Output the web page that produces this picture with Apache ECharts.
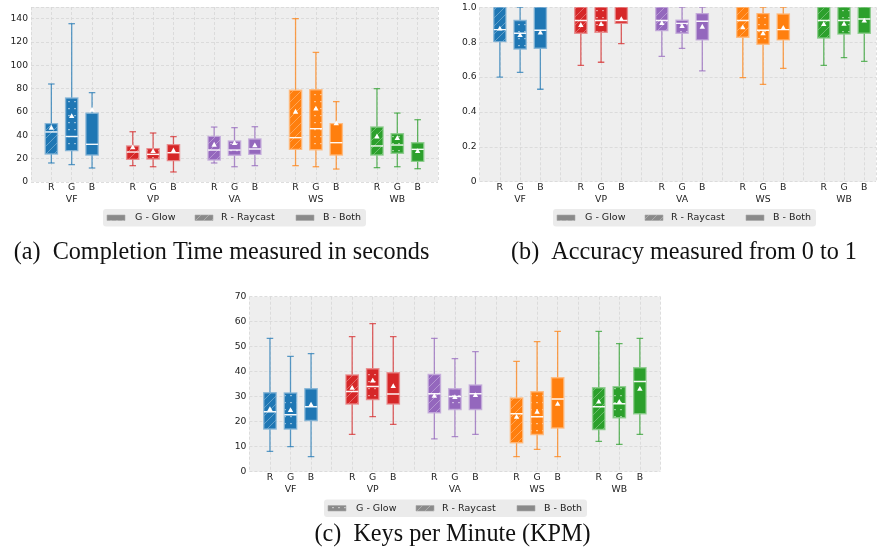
<!DOCTYPE html>
<html>
<head>
<meta charset="utf-8">
<script src="https://cdn.jsdelivr.net/npm/echarts@6/dist/echarts.min.js"></script>
<style>
html,body{margin:0;padding:0;background:#fff;}
#chart{width:879px;height:554px;}
</style>
</head>
<body>
<div id="chart"></div>
<script>
const groups = ['VF', 'VP', 'VA', 'WS', 'WB'];
const methods = ['R', 'G', 'B'];
const groupColors = ['#1f77b4', '#d62728', '#9467bd', '#ff7f0e', '#2ca02c'];

// each box: [low whisker, Q1, median, Q3, high whisker], order VF-R, VF-G, VF-B, VP-R, ...
const timeBoxes = [
  [16.3, 24, 42.9, 50, 84], [14.9, 26.9, 39, 72, 135.7], [12, 23.1, 32.3, 58.9, 76.6],
  [14, 19.4, 25.7, 30.9, 43.1], [13.1, 19.7, 23.7, 28.6, 42], [8.6, 18.3, 25.1, 32, 38.9],
  [16.3, 18.9, 27.4, 39.1, 47.1], [13.1, 22.9, 27.4, 35.1, 46.6], [14, 23.7, 28.3, 36.9, 47.4],
  [14, 28, 38, 78.6, 140], [13.1, 27.7, 45.7, 79.1, 111.1], [11.1, 23.1, 33.7, 50, 68.9],
  [12.3, 23.1, 30.9, 47.1, 80], [13.1, 24.6, 31.7, 41.4, 59.1], [11.4, 17.7, 28, 33.7, 53.4]
];
const timeMeans = [46.6, 56.6, 62, 29.7, 26.6, 27.1, 32, 33.4, 31.4, 60.3, 62.9, 50.3, 39.1, 37.7, 26.6];

const accBoxes = [
  [0.600, 0.803, 0.872, 1.0, 1.0], [0.627, 0.761, 0.851, 0.924, 1.0], [0.530, 0.765, 0.868, 1.0, 1.0],
  [0.667, 0.851, 0.924, 1.0, 1.0], [0.685, 0.857, 0.924, 1.0, 1.0], [0.792, 0.908, 0.924, 1.0, 1.0],
  [0.719, 0.866, 0.924, 1.0, 1.0], [0.765, 0.851, 0.908, 0.926, 1.0], [0.635, 0.813, 0.920, 0.964, 1.0],
  [0.597, 0.828, 0.924, 1.0, 1.0], [0.558, 0.788, 0.868, 0.964, 1.0], [0.650, 0.813, 0.872, 0.962, 1.0],
  [0.667, 0.824, 0.924, 1.0, 1.0], [0.711, 0.847, 0.924, 1.0, 1.0], [0.690, 0.851, 0.933, 1.0, 1.0]
];
const accMeans = [0.878, 0.841, 0.855, 0.899, 0.904, 0.933, 0.910, 0.893, 0.889, 0.885, 0.851, 0.883, 0.904, 0.906, 0.924];

const kpmBoxes = [
  [8.1, 17.1, 24, 31.6, 53.3], [10, 17.1, 22.8, 31.5, 46.1], [6, 20.5, 26, 33.2, 47.2],
  [14.9, 27.1, 32.1, 38.7, 54], [22, 28.9, 34.1, 41.2, 59.2], [18.9, 27.1, 31.1, 39.6, 54],
  [13.1, 23.6, 31.2, 38.9, 53.3], [14, 24.9, 30.1, 33.2, 45.2], [14.9, 24.9, 31.2, 34.7, 48],
  [6, 11.6, 23.2, 29.5, 44.1], [8.9, 14.9, 22, 32, 52], [6, 17.5, 29.1, 37.6, 56.1],
  [12.1, 16.9, 26, 33.6, 56.1], [10.9, 21.6, 27.2, 34, 51.2], [14.9, 23.2, 36.1, 41.6, 53.3]
];
const kpmMeans = [25.1, 24.7, 26.9, 33.6, 36.5, 34.3, 30.4, 29.9, 30.7, 22, 24, 27.2, 28.1, 28, 33.2];

const legendItems = ['G - Glow', 'R - Raycast', 'B - Both'];
const captions = ['(a)  Completion Time measured in seconds', '(b)  Accuracy measured from 0 to 1', '(c)  Keys per Minute (KPM)'];

// ---------- styling helpers ----------
function hexToRgb(h) {
  const n = parseInt(h.slice(1), 16);
  return [(n >> 16) & 255, (n >> 8) & 255, n & 255];
}
function rgba(h, a) { const c = hexToRgb(h); return 'rgba(' + c.join(',') + ',' + a + ')'; }
function lighten(h, t, a) {
  const c = hexToRgb(h).map(v => Math.round(v + (255 - v) * t));
  return 'rgba(' + c.join(',') + ',' + a + ')';
}
const patCache = {};
function pattern(color, kind) {
  const key = color + kind;
  if (patCache[key]) return patCache[key];
  let res;
  if (kind === 2) { res = color; }
  else {
    const c = document.createElement('canvas');
    const ctx = c.getContext('2d');
    if (kind === 0) { // hatch
      c.width = 8; c.height = 8;
      ctx.fillStyle = color; ctx.fillRect(0, 0, 8, 8);
      ctx.strokeStyle = 'rgba(255,255,255,0.38)'; ctx.lineWidth = 0.8;
      ctx.beginPath();
      ctx.moveTo(0, 8); ctx.lineTo(8, 0);
      ctx.moveTo(-1, 1); ctx.lineTo(1, -1);
      ctx.moveTo(7, 9); ctx.lineTo(9, 7);
      ctx.stroke();
    } else { // dots
      c.width = 6; c.height = 7;
      ctx.fillStyle = color; ctx.fillRect(0, 0, 6, 7);
      ctx.fillStyle = 'rgba(255,255,255,0.85)';
      ctx.fillRect(2.4, 3, 1.2, 1.2);
    }
    res = { image: c, repeat: 'repeat' };
  }
  patCache[key] = res;
  return res;
}

function buildData(boxes, means) {
  const out = [];
  boxes.forEach((b, i) => {
    const g = Math.floor(i / 3), m = i % 3;
    out.push([g * 4 + m + 1, b[0], b[1], b[2], b[3], b[4], means[i], g, m]);
  });
  return out;
}

function renderBox(params, api) {
  const pos = api.value(0);
  const low = api.value(1), q1 = api.value(2), med = api.value(3), q3 = api.value(4), high = api.value(5), mean = api.value(6);
  const g = api.value(7), m = api.value(8);
  const col = groupColors[g];
  const xc = api.coord([pos, 0])[0];
  const bw = api.size([0.6, 0])[0];
  const cw = api.size([0.32, 0])[0];
  const yL = api.coord([pos, low])[1], yQ1 = api.coord([pos, q1])[1], yMed = api.coord([pos, med])[1];
  const yQ3 = api.coord([pos, q3])[1], yH = api.coord([pos, high])[1], yMean = api.coord([pos, mean])[1];
  const wc = rgba(col, 0.72);
  return {
    type: 'group',
    children: [
      { type: 'line', shape: { x1: xc, y1: yH, x2: xc, y2: yL }, style: { stroke: wc, lineWidth: 1.3 } },
      { type: 'line', shape: { x1: xc - cw / 2, y1: yH, x2: xc + cw / 2, y2: yH }, style: { stroke: wc, lineWidth: 1.3 } },
      { type: 'line', shape: { x1: xc - cw / 2, y1: yL, x2: xc + cw / 2, y2: yL }, style: { stroke: wc, lineWidth: 1.3 } },
      { type: 'rect', shape: { x: xc - bw / 2, y: yQ3, width: bw, height: yQ1 - yQ3 },
        style: { fill: pattern(col, m === 0 ? 0 : (m === 1 ? 1 : 2)), stroke: lighten(col, 0.45, 0.85), lineWidth: 1.4 } },
      { type: 'line', shape: { x1: xc - bw / 2, y1: yMed, x2: xc + bw / 2, y2: yMed }, style: { stroke: 'rgba(255,255,255,0.95)', lineWidth: 1.4 } },
      { type: 'polygon', shape: { points: [[xc, yMean - 2.8], [xc - 2.7, yMean + 2], [xc + 2.7, yMean + 2]] }, style: { fill: '#ffffff' } }
    ]
  };
}

const FONT = 'DejaVu Sans';
function xLabel(v) {
  if (Math.abs(v - Math.round(v)) > 1e-6) return '';
  v = Math.round(v);
  if (v % 4 === 0) return '';
  const g = Math.floor(v / 4), m = v % 4 - 1;
  return m === 1 ? methods[m] + '\n' + groups[g] : methods[m];
}
const splitStyle = { show: true, lineStyle: { color: '#d6d6d6', type: [3, 2], width: 0.8 } };

function xAxis(idx, max) {
  return {
    type: 'value', gridIndex: idx, min: 0, max: max, interval: 1,
    axisLine: { show: false }, axisTick: { show: false },
    splitLine: splitStyle,
    axisLabel: { formatter: xLabel, fontFamily: FONT, fontSize: 9.3, color: '#222', margin: 0, lineHeight: 12, showMinLabel: true, showMaxLabel: true }
  };
}
function yAxis(idx, max, interval, fmt) {
  return {
    type: 'value', gridIndex: idx, min: 0, max: max, interval: interval,
    axisLine: { show: false }, axisTick: { show: false },
    splitLine: splitStyle,
    axisLabel: { formatter: fmt, fontFamily: FONT, fontSize: 9.2, color: '#222', margin: 3 }
  };
}

const grids = [
  { left: 31, top: 7, width: 407, height: 175 },
  { left: 479.6, top: 7.3, width: 399.4, height: 174.4 },
  { left: 249.4, top: 296.7, width: 411, height: 175 }
];

function legendGraphic(x, y) {
  const children = [
    { type: 'rect', shape: { x: x, y: y, width: 263, height: 17.5, r: 3 }, style: { fill: '#ebebeb' } }
  ];
  const patchX = [4, 92, 193], textX = [32, 118, 220], kinds = [1, 0, 2];
  legendItems.forEach((t, i) => {
    children.push({ type: 'rect', shape: { x: x + patchX[i], y: y + 6, width: 18, height: 5.5 },
      style: { fill: pattern('#8a8a8a', kinds[i]), stroke: '#a8a8a8', lineWidth: 0.6 } });
    children.push({ type: 'text', x: x + textX[i], y: y + 9, style: { text: t, font: '9.5px "DejaVu Sans"', fill: '#222', verticalAlign: 'middle', align: 'left' } });
  });
  return { type: 'group', children: children };
}
function captionGraphic(cx, cy, t) {
  return { type: 'text', x: cx, y: cy, style: { text: t, font: '24.2px "Liberation Serif"', fill: '#111', align: 'center', verticalAlign: 'middle' } };
}

const option = {
  animation: false,
  backgroundColor: '#ffffff',
  grid: grids.map(g => Object.assign({ show: true, backgroundColor: '#eeeeee', borderWidth: 0 }, g)),
  xAxis: [xAxis(0, 20), xAxis(1, 19.58), xAxis(2, 20)],
  yAxis: [
    yAxis(0, 150, 20, v => (v % 20 === 0 && v <= 140) ? String(v) : ''),
    yAxis(1, 1, 0.2, v => v === 0 ? '0' : v.toFixed(1)),
    yAxis(2, 70, 10, v => String(v))
  ],
  series: [
    { type: 'custom', xAxisIndex: 0, yAxisIndex: 0, data: buildData(timeBoxes, timeMeans), renderItem: renderBox, clip: true },
    { type: 'custom', xAxisIndex: 1, yAxisIndex: 1, data: buildData(accBoxes, accMeans), renderItem: renderBox, clip: true },
    { type: 'custom', xAxisIndex: 2, yAxisIndex: 2, data: buildData(kpmBoxes, kpmMeans), renderItem: renderBox, clip: true }
  ],
  graphic: [
    legendGraphic(103, 209),
    legendGraphic(553, 209),
    legendGraphic(324, 499.5),
    captionGraphic(221.5, 253, captions[0]),
    captionGraphic(684, 253, captions[1]),
    captionGraphic(452.5, 535, captions[2])
  ]
};
const chart = echarts.init(document.getElementById('chart'), null, { renderer: 'canvas' });
chart.setOption(option);
</script>
</body>
</html>
